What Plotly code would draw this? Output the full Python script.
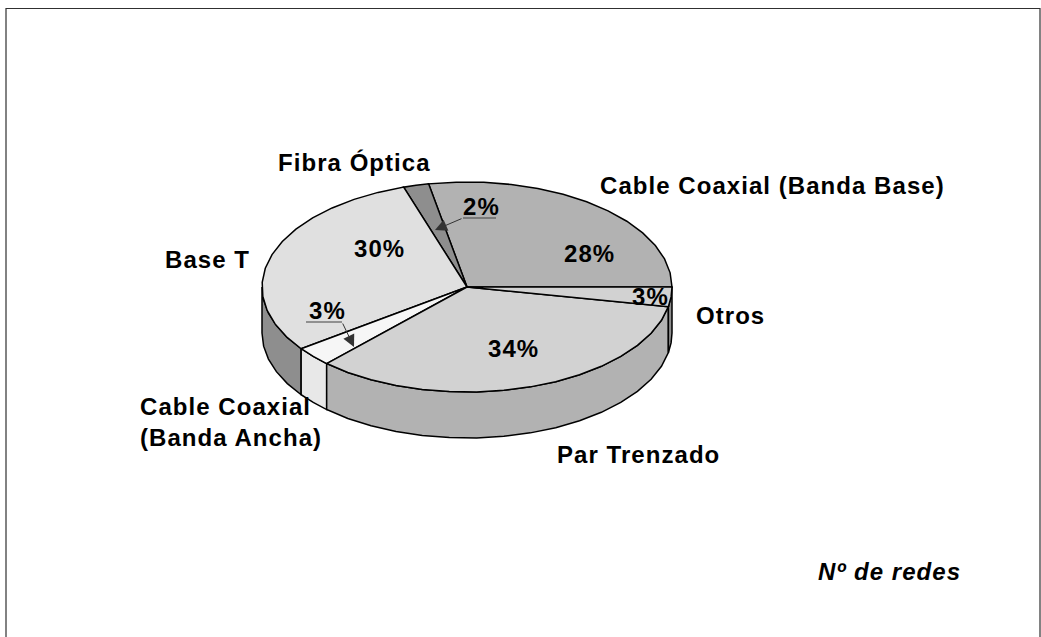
import numpy as np
import plotly.graph_objects as go

# --- data ---
categories = ["Cable Coaxial (Banda Base)", "Fibra Óptica", "Base T",
              "Cable Coaxial (Banda Ancha)", "Par Trenzado", "Otros"]
values = [28, 2, 30, 3, 34, 3]
top_colors = ["#b2b2b2", "#8e8e8e", "#e0e0e0", "#f6f6f6", "#d2d2d2", "#d2d2d2"]
side_colors = ["#8e8e8e", "#6e6e6e", "#8e8e8e", "#e8e8e8", "#b2b2b2", "#8e8e8e"]

# --- projection of the tilted disc onto the page ---
CX, CY, RX, RY, DEPTH = 467, 287, 205, 105, 46
W, H = 1041, 637


def px(t):
    return CX + RX * np.cos(np.radians(t))


def py(t, drop=0):
    return CY - RY * np.sin(np.radians(t)) + drop


fig = go.Figure()
edges = np.cumsum([0] + values) * 3.6
LINE = dict(color="#000000", width=1.5)

# side walls: only the front half of the disc (180-360 degrees) is visible
for i, v in enumerate(values):
    a, b = max(edges[i], 180), edges[i + 1]
    if b <= a:
        continue
    t = np.linspace(a, b, max(int((b - a) / 8) + 2, 3))
    xs = np.r_[px(t), px(t[::-1]), px(t[0])]
    ys = np.r_[py(t), py(t[::-1], DEPTH), py(t[0])]
    fig.add_trace(go.Scatter(x=xs, y=ys, mode="lines", fill="toself",
                             fillcolor=side_colors[i], line=LINE,
                             hoverinfo="skip", showlegend=False))

# top wedges
for i, v in enumerate(values):
    t = np.linspace(edges[i], edges[i + 1], max(int(v * 3.6 / 8) + 2, 3))
    xs = np.r_[CX, px(t), CX]
    ys = np.r_[CY, py(t), CY]
    fig.add_trace(go.Scatter(x=xs, y=ys, mode="lines", fill="toself",
                             fillcolor=top_colors[i], line=LINE,
                             name=categories[i], hoverinfo="name",
                             showlegend=False))

BIG = dict(family="Liberation Sans, Arial, sans-serif", size=24, color="#000000")


def label(x, y, text, anchor="left", align="left", font=None):
    fig.add_annotation(x=x, y=y - 1, text=text, showarrow=False, xanchor=anchor,
                       yanchor="middle", align=align, font=font or BIG,
                       xref="x", yref="y", borderpad=0, borderwidth=0)


label(278, 163, "<b>Fibra Óptica</b>")
label(600, 186, "<b>Cable Coaxial (Banda Base)</b>")
label(165, 260, "<b>Base T</b>")
label(696, 316, "<b>Otros</b>")
label(557, 455, "<b>Par Trenzado</b>")
label(140, 423, "<b>Cable Coaxial<br>(Banda Ancha)</b>")
label(818, 572, "<b><i>Nº de redes</i></b>")
label(564, 254, "<b>28%</b>")
label(354, 249, "<b>30%</b>")
label(488, 349, "<b>34%</b>")
label(632, 297, "<b>3%</b>")
label(463, 207, "<b>2%</b>")
label(309, 311, "<b>3%</b>")

# leader lines with arrowheads
for (x0, x1, y, tx, ty) in [(496, 463, 218, 435, 230), (306, 342, 322, 354, 347)]:
    fig.add_trace(go.Scatter(x=[x0, x1], y=[y, y], mode="lines",
                             line=dict(color="#404040", width=1),
                             hoverinfo="skip", showlegend=False))
    fig.add_annotation(x=tx, y=ty, ax=x1, ay=y, xref="x", yref="y", axref="x", ayref="y",
                       text="", showarrow=True, arrowhead=2, arrowsize=2.4,
                       arrowwidth=1, arrowcolor="#333333")

# frame: open at the bottom
fig.add_trace(go.Scatter(x=[6, 6, 1040, 1040], y=[H, 8.5, 8.5, H], mode="lines",
                         line=dict(color="#303030", width=1.2),
                         hoverinfo="skip", showlegend=False))

fig.update_layout(
    width=W, height=H, margin=dict(l=0, r=0, t=0, b=0),
    paper_bgcolor="#ffffff", plot_bgcolor="#ffffff",
    xaxis=dict(range=[0, W], visible=False, fixedrange=True),
    yaxis=dict(range=[H, 0], visible=False, fixedrange=True),
)
PAGE_CSS = ("document.body.style.margin='0';"
            "document.documentElement.style.overflow='hidden';"
            "var s=document.createElement('style');"
            "s.textContent='.annotation-text{letter-spacing:1.05px}';"
            "document.head.appendChild(s);")
fig.write_html("out.html", config={"displayModeBar": False}, post_script=PAGE_CSS)
